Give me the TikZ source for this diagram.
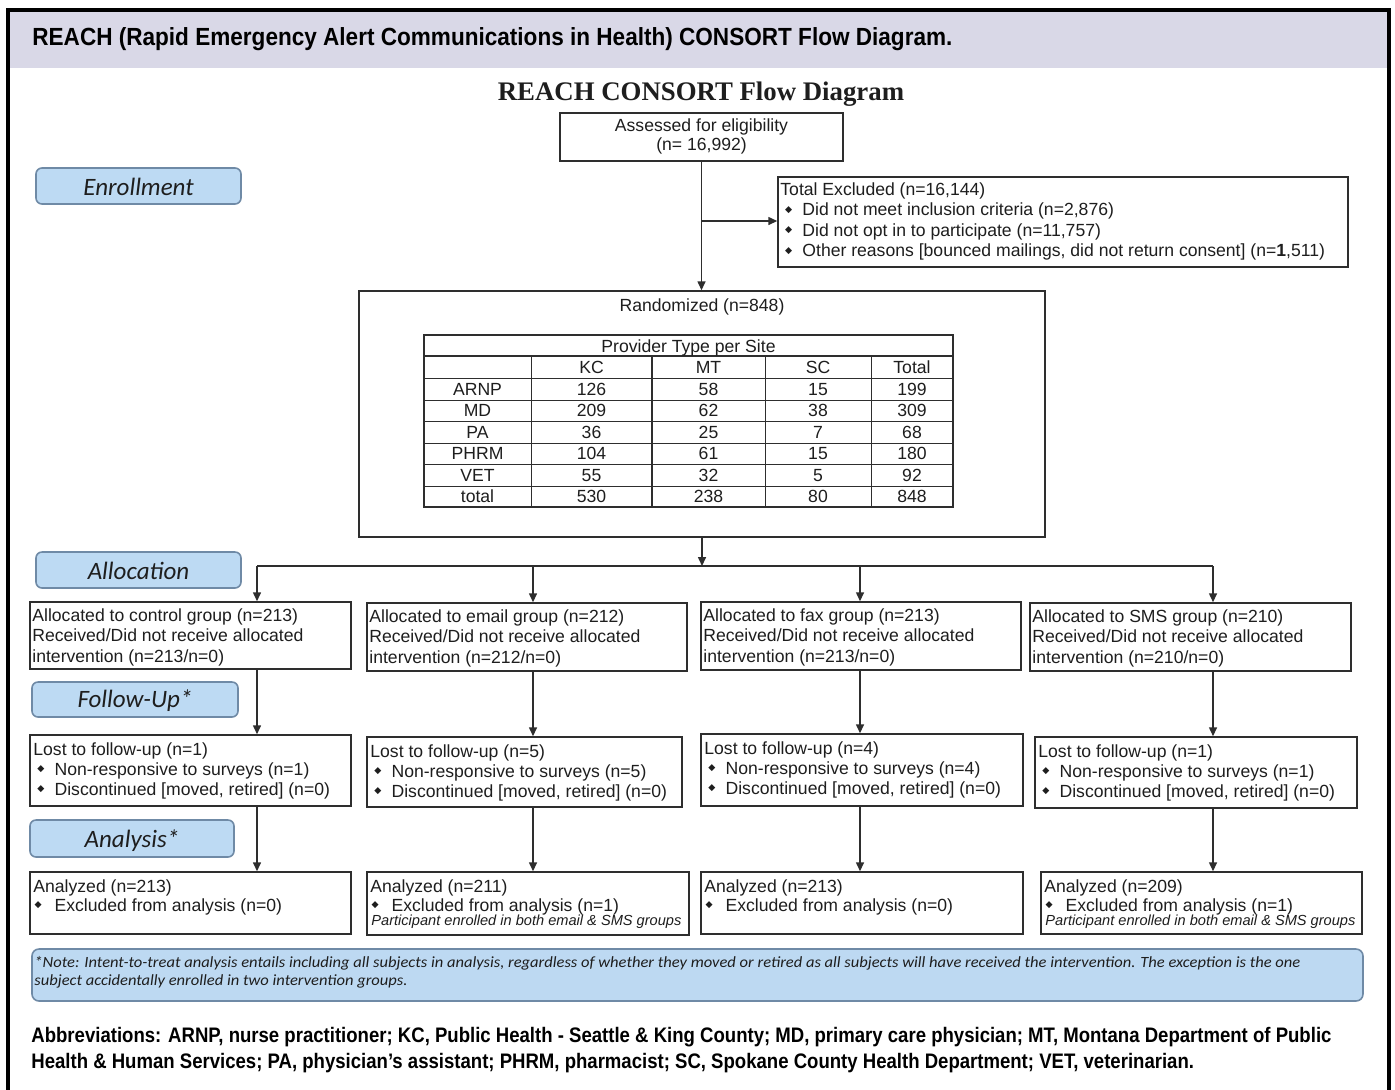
\documentclass[tikz,border=0pt]{standalone}
\usepackage{fontspec}
\usepackage{graphicx}
\setmainfont{Liberation Sans}
\newfontfamily\serifttl{Liberation Serif}
\newfontfamily\califont{Carlito}
\newfontfamily\symfont{DejaVu Sans}
\usetikzlibrary{arrows.meta,fit,calc}
\definecolor{hdrband}{HTML}{D9D8E7}
\definecolor{lblfill}{HTML}{BDDAF3}
\definecolor{lblborder}{HTML}{6F8AA6}
\definecolor{notefill}{HTML}{BDD9F2}
\definecolor{linec}{HTML}{2E2E2E}
\definecolor{inkc}{HTML}{1E1E1E}
\newcommand\dia{\raisebox{1.7pt}{\symfont\fontsize{4.6}{5}\selectfont ◆}}
\newcommand\xitem[1]{\makebox[11pt][l]{\hspace{2.4pt}\dia}#1}
\newcommand\fitem[1]{\makebox[10.6pt][l]{\hspace{2pt}\dia}#1}
\newcommand\aitem[1]{\makebox[10.6pt][l]{\hspace{0.6pt}\dia}#1}
\newcommand\blines[1]{\begin{tabular}[t]{@{}l@{}}#1\end{tabular}}
\tikzset{
  txt/.style={inner sep=0pt, anchor=base west, text=inkc, font={\fontsize{8.8}{10.3}\selectfont}},
  txtfu/.style={txt, font={\fontsize{8.8}{10}\selectfont}},
  txtan/.style={txt, font={\fontsize{8.8}{9.5}\selectfont}},
  txtsm/.style={txt, font={\itshape\fontsize{7.3}{8}\selectfont}},
  ctxt/.style={inner sep=0pt, anchor=base, text=inkc, font={\fontsize{8.8}{10.3}\selectfont}},
  boxs/.style={draw=linec, line width=0.75pt, inner sep=0pt, fill=white},
  lbl/.style={draw=lblborder, fill=lblfill, rounded corners=3pt, line width=0.8pt, inner sep=0pt},
  lbltxt/.style={inner sep=0pt, anchor=base, text=inkc, font={\califont\itshape\fontsize{12.5}{14}\selectfont}},
  arr/.style={draw=linec, line width=0.75pt, -{Triangle[length=4.5pt,width=4pt]}},
  conn/.style={draw=linec, line width=0.75pt},
  gridl/.style={draw=linec, line width=0.5pt},
}
\begin{document}
\begin{tikzpicture}[x=0.5pt,y=-0.5pt]
\useasboundingbox (0,0) rectangle (1395,1089);
\fill[white] (0,0) rectangle (1395,1089);
\clip (0,0) rectangle (1395,1089);
% header band and frame
\fill[hdrband] (9,10) rectangle (1388,68);
\draw[black, line width=2pt] (8,9.5) rectangle (1389,1130);
\node[inner sep=0pt, anchor=base west, text=black, font={\bfseries\fontsize{12.4}{14}\selectfont}] (hdr) at (32,45) {\resizebox{460pt}{\height}{REACH (Rapid Emergency Alert Communications in Health) CONSORT Flow Diagram.}};
\node[inner sep=0pt, anchor=base, text=inkc, font={\serifttl\bfseries\fontsize{13.4}{15}\selectfont}] (ttl) at (701,100) {REACH CONSORT Flow Diagram};

% stage labels
\node[lbl, fit={(36,168) (241,204)}] (enr) {};
\node[lbltxt] (enrt) at (138.5,195) {Enrollment};
\node[lbl, fit={(36,552) (241,588)}] (alc) {};
\node[lbltxt] (alct) at (138.5,579) {Allocation};
\node[lbl, fit={(32,682) (238,717)}] (fup) {};
\node[lbltxt] (fupt) at (135,707) {Follow-Up*};
\node[lbl, fit={(30,820) (234,857)}] (ana) {};
\node[lbltxt] (anat) at (132,847) {Analysis*};

% enrollment
\node[boxs, fit={(560,113) (843,161)}] (assess) {};
\node[ctxt] (assess1) at (701.5,131) {Assessed for eligibility};
\node[ctxt] (assess2) at (701.5,150) {(n= 16,992)};
\node[boxs, fit={(778,177) (1348,267)}] (excl) {};
\node[txt] (exclt) at (780,195) {\blines{Total Excluded (n=16,144)\\
\xitem{Did not meet inclusion criteria (n=2,876)}\\
\xitem{Did not opt in to participate (n=11,757)}\\
\xitem{Other reasons [bounced mailings, did not return consent] (n=\textbf{1},511)}}};

% randomized with table
\node[boxs, fit={(359,291) (1045,537)}] (rand) {};
\node[ctxt] (randt) at (702,311) {Randomized (n=848)};
\node[draw=linec, line width=0.8pt, inner sep=0pt, fit={(424,335) (953,507)}] (tbl) {};
\draw[draw=linec, line width=1.2pt] (424,356) -- (953,356);
\foreach \yy in {378,400,421,443,464,486} \draw[gridl] (424,\yy) -- (953,\yy);
\foreach \xx in {531,765,871} \draw[gridl] (\xx,356) -- (\xx,507);
\draw[draw=linec, line width=1pt] (652,356) -- (652,507);
\node[ctxt] (th) at (688.5,352) {Provider Type per Site};
\node[ctxt] (h2) at (591.5,373) {KC};
\node[ctxt] (h3) at (708.5,373) {MT};
\node[ctxt] (h4) at (818,373) {SC};
\node[ctxt] (h5) at (912,373) {Total};
\foreach \r/\yy/\a/\b/\c/\d/\e in {1/395/ARNP/126/58/15/199, 2/416.5/MD/209/62/38/309, 3/438/PA/36/25/7/68, 4/459.5/PHRM/104/61/15/180, 5/481/VET/55/32/5/92, 6/502.5/total/530/238/80/848}{
  \node[ctxt] (cell-\r-1) at (477.5,\yy) {\a};
  \node[ctxt] (cell-\r-2) at (591.5,\yy) {\b};
  \node[ctxt] (cell-\r-3) at (708.5,\yy) {\c};
  \node[ctxt] (cell-\r-4) at (818,\yy) {\d};
  \node[ctxt] (cell-\r-5) at (912,\yy) {\e};
}

% allocation boxes
\node[boxs, fit={(30,602) (351,669)}] (calloc) {};
\node[boxs, fit={(367,603) (687,671)}] (ealloc) {};
\node[boxs, fit={(701,602) (1021,670)}] (falloc) {};
\node[boxs, fit={(1030,603) (1351,671)}] (salloc) {};
\node[txt] (calloct) at (32,621) {\blines{Allocated to control group (n=213)\\Received/Did not receive allocated\\intervention (n=213/n=0)}};
\node[txt] (ealloct) at (369,622) {\blines{Allocated to email group (n=212)\\Received/Did not receive allocated\\intervention (n=212/n=0)}};
\node[txt] (falloct) at (703,621) {\blines{Allocated to fax group (n=213)\\Received/Did not receive allocated\\intervention (n=213/n=0)}};
\node[txt] (salloct) at (1032,622) {\blines{Allocated to SMS group (n=210)\\Received/Did not receive allocated\\intervention (n=210/n=0)}};

% follow-up boxes
\node[boxs, fit={(30,735) (351,806)}] (cfu) {};
\node[boxs, fit={(367,737) (682,807)}] (efu) {};
\node[boxs, fit={(701,734) (1023,806)}] (ffu) {};
\node[boxs, fit={(1035,737) (1357,808)}] (sfu) {};
\node[txtfu] (cfut) at (33,755) {\blines{Lost to follow-up (n=1)\\\fitem{Non-responsive to surveys (n=1)}\\\fitem{Discontinued [moved, retired] (n=0)}}};
\node[txtfu] (efut) at (370,757) {\blines{Lost to follow-up (n=5)\\\fitem{Non-responsive to surveys (n=5)}\\\fitem{Discontinued [moved, retired] (n=0)}}};
\node[txtfu] (ffut) at (704,754) {\blines{Lost to follow-up (n=4)\\\fitem{Non-responsive to surveys (n=4)}\\\fitem{Discontinued [moved, retired] (n=0)}}};
\node[txtfu] (sfut) at (1038,757) {\blines{Lost to follow-up (n=1)\\\fitem{Non-responsive to surveys (n=1)}\\\fitem{Discontinued [moved, retired] (n=0)}}};

% analysis boxes
\node[boxs, fit={(30,872) (351,934)}] (can) {};
\node[boxs, fit={(367,872) (689,935)}] (ean) {};
\node[boxs, fit={(701,872) (1023,934)}] (fan) {};
\node[boxs, fit={(1041,872) (1362,934)}] (san) {};
\node[txtan] (cant) at (33,892) {\blines{Analyzed (n=213)\\\aitem{Excluded from analysis (n=0)}}};
\node[txtan] (eant) at (370,892) {\blines{Analyzed (n=211)\\\aitem{Excluded from analysis (n=1)}}};
\node[txtsm] (eant2) at (371,925) {Participant enrolled in both email \& SMS groups};
\node[txtan] (fant) at (704,892) {\blines{Analyzed (n=213)\\\aitem{Excluded from analysis (n=0)}}};
\node[txtan] (sant) at (1044,892) {\blines{Analyzed (n=209)\\\aitem{Excluded from analysis (n=1)}}};
\node[txtsm] (sant2) at (1045,925) {Participant enrolled in both email \& SMS groups};

% connectors
\draw[arr] (assess.south) -- (assess.south |- rand.north);
\coordinate (brk) at (701.5,221);
\draw[arr] (brk) -- (brk -| excl.west);
\coordinate (split) at (702,566);
\draw[arr] (rand.south) -- (split);
\coordinate (xc) at (257,0);
\coordinate (xe) at (533,0);
\coordinate (xf) at (860,0);
\coordinate (xs) at (1213,0);
\draw[conn] (xc |- split) -- (xs |- split);
\draw[arr] (xc |- split) -- (xc |- calloc.north);
\draw[arr] (xe |- split) -- (xe |- ealloc.north);
\draw[arr] (xf |- split) -- (xf |- falloc.north);
\draw[arr] (xs |- split) -- (xs |- salloc.north);
\draw[arr] (xc |- calloc.south) -- (xc |- cfu.north);
\draw[arr] (xe |- ealloc.south) -- (xe |- efu.north);
\draw[arr] (xf |- falloc.south) -- (xf |- ffu.north);
\draw[arr] (xs |- salloc.south) -- (xs |- sfu.north);
\draw[arr] (xc |- cfu.south) -- (xc |- can.north);
\draw[arr] (xe |- efu.south) -- (xe |- ean.north);
\draw[arr] (xf |- ffu.south) -- (xf |- fan.north);
\draw[arr] (xs |- sfu.south) -- (xs |- san.north);

% note
\node[draw=lblborder, fill=notefill, rounded corners=3.5pt, line width=0.8pt, inner sep=0pt, fit={(32,949) (1363,1001)}] (note) {};
\node[inner sep=0pt, anchor=base west, text=inkc, font={\califont\itshape\fontsize{7.8}{9}\selectfont}] (notet) at (34,967) {\resizebox{633pt}{\height}{\blines{*Note: Intent-to-treat analysis entails including all subjects in analysis, regardless of whether they moved or retired as all subjects will have received the intervention. The exception is the one\\subject accidentally enrolled in two intervention groups.}}};

% abbreviations
\node[inner sep=0pt, anchor=base west, text=black, font={\bfseries\fontsize{10.5}{13}\selectfont}] (abbr) at (31,1042) {\resizebox{650pt}{\height}{\blines{Abbreviations: ARNP, nurse practitioner; KC, Public Health - Seattle \& King County; MD, primary care physician; MT, Montana Department of Public\\Health \& Human Services; PA, physician’s assistant; PHRM, pharmacist; SC, Spokane County Health Department; VET, veterinarian.}}};
\end{tikzpicture}
\end{document}
